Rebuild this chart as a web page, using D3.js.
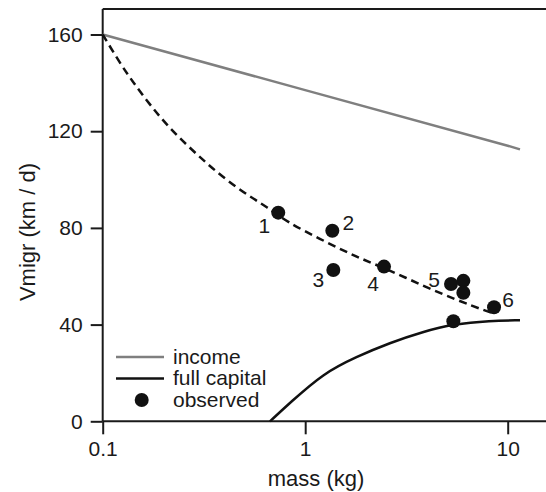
<!DOCTYPE html>
<html>
<head>
<meta charset="utf-8">
<script src="https://cdn.jsdelivr.net/npm/d3@7"></script>
<style>
  body { margin: 0; background: #fff; }
  text { font-family: "Liberation Sans", Arial, sans-serif; fill: #1a1a1a; }
</style>
</head>
<body>
<div id="chart"></div>
<script>
// data (mass in kg, speed in km/d)
var incomeMass = [0.1, 1, 10, 11.5];
var incomeV = [160, 137, 114, 112.5];

var capitalMass = [0.67, 0.84, 1.23, 1.79, 2.62, 3.83, 5.38, 8.18, 11.5];
var capitalV = [0, 7.6, 19.9, 26.7, 32.5, 37.1, 40.2, 41.6, 41.8];

var fitMass = [0.1, 0.122, 0.142, 0.171, 0.207, 0.26, 0.326, 0.409, 0.533, 0.645, 0.81, 1.18, 1.73, 2.53, 3.83, 5.6, 7.87, 8.6];
var fitV = [160, 148, 140, 131, 122.6, 114.3, 106.7, 99.8, 92.9, 88.8, 82.5, 75.5, 68.5, 63, 56, 50.2, 45.5, 44.6];

var obsMass = [0.736, 1.361, 1.377, 2.45, 5.25, 6.04, 6.04, 8.56, 5.39];
var obsV = [86.3, 78.8, 62.6, 64.0, 56.8, 58.1, 53.2, 47.2, 41.4];
var obsLabel = ["1", "2", "3", "4", "5", "", "", "6", ""];

var xTicks = [0.1, 1, 10];
var yTicks = [0, 40, 80, 120, 160];

var svgWidth = 546;
var svgHeight = 492;

var svg = d3.select("#chart")
  .append("svg")
  .attr("width", svgWidth)
  .attr("height", svgHeight);

var x = d3.scaleLog().domain([0.1, 10]).range([102.7, 507.7]);
var y = d3.scaleLinear().domain([0, 160]).range([421.3, 34.5]);
var topY = 9;

// axes
var bottomAxis = d3.axisBottom(x)
  .tickValues(xTicks)
  .tickFormat(d => String(d))
  .tickSizeInner(13)
  .tickSizeOuter(0)
  .tickPadding(7);

var leftAxis = d3.axisLeft(y)
  .tickValues(yTicks)
  .tickSizeInner(12)
  .tickSizeOuter(0)
  .tickPadding(8);

var gx = svg.append("g")
  .attr("transform", `translate(0, ${y(0)})`)
  .call(bottomAxis);
gx.select(".domain").attr("d", `M${x(0.1)},0H${svgWidth}`);

var gy = svg.append("g")
  .attr("transform", `translate(${x(0.1)}, 0)`)
  .call(leftAxis);
gy.select(".domain").attr("d", `M0,${topY}V${y(0)}`);

svg.selectAll(".domain, .tick line")
  .attr("stroke", "#1a1a1a")
  .attr("stroke-width", 2);
svg.selectAll(".tick text")
  .attr("font-size", 21)
  .attr("fill", "#1a1a1a");

// top frame line
svg.append("line")
  .attr("x1", x(0.1)).attr("x2", svgWidth)
  .attr("y1", topY).attr("y2", topY)
  .attr("stroke", "#1a1a1a")
  .attr("stroke-width", 2);

// axis titles
svg.append("text")
  .attr("x", 316)
  .attr("y", 486)
  .attr("text-anchor", "middle")
  .attr("font-size", 22)
  .text("mass (kg)");

svg.append("text")
  .attr("transform", "translate(35, 232) rotate(-90)")
  .attr("text-anchor", "middle")
  .attr("font-size", 22)
  .text("Vmigr (km / d)");

// lines
var line = d3.line()
  .x(d => x(d[0]))
  .y(d => y(d[1]));

svg.append("path")
  .datum(d3.zip(incomeMass, incomeV))
  .attr("d", line)
  .attr("fill", "none")
  .attr("stroke", "#7f7f7f")
  .attr("stroke-width", 2.5);

svg.append("path")
  .datum(d3.zip(capitalMass, capitalV))
  .attr("d", line.curve(d3.curveBasis))
  .attr("fill", "none")
  .attr("stroke", "#111")
  .attr("stroke-width", 2.5);

svg.append("path")
  .datum(d3.zip(fitMass, fitV))
  .attr("d", line.curve(d3.curveBasis))
  .attr("fill", "none")
  .attr("stroke", "#111")
  .attr("stroke-width", 2.5)
  .attr("stroke-dasharray", "8,5");

// observed points
var obs = d3.zip(obsMass, obsV, obsLabel);

svg.selectAll(".obs")
  .data(obs)
  .enter()
  .append("circle")
  .attr("class", "obs")
  .attr("cx", d => x(d[0]))
  .attr("cy", d => y(d[1]))
  .attr("r", 7)
  .attr("fill", "#111");

// where each number sits relative to its dot
var labelOffset = {
  "1": [-14, 13], "2": [16, -8], "3": [-15, 10],
  "4": [-11, 17], "5": [-17, -4], "6": [14, -8]
};

svg.selectAll(".obsLabel")
  .data(obs.filter(d => d[2] !== ""))
  .enter()
  .append("text")
  .attr("class", "obsLabel")
  .attr("x", d => x(d[0]) + labelOffset[d[2]][0])
  .attr("y", d => y(d[1]) + labelOffset[d[2]][1])
  .attr("text-anchor", "middle")
  .attr("dominant-baseline", "central")
  .attr("font-size", 21)
  .text(d => d[2]);

// legend
var legend = svg.append("g").attr("transform", "translate(116, 357)");

legend.append("line")
  .attr("x1", 0).attr("x2", 48).attr("y1", 0).attr("y2", 0)
  .attr("stroke", "#7f7f7f").attr("stroke-width", 2.5);
legend.append("line")
  .attr("x1", 0).attr("x2", 48).attr("y1", 21.5).attr("y2", 21.5)
  .attr("stroke", "#111").attr("stroke-width", 2.5);
legend.append("circle")
  .attr("cx", 25.7).attr("cy", 43).attr("r", 7)
  .attr("fill", "#111");

legend.selectAll(".legText")
  .data(["income", "full capital", "observed"])
  .enter()
  .append("text")
  .attr("class", "legText")
  .attr("x", 57)
  .attr("y", (d, i) => i * 21.5 + 6.5)
  .attr("font-size", 21)
  .text(d => d);
</script>
</body>
</html>
